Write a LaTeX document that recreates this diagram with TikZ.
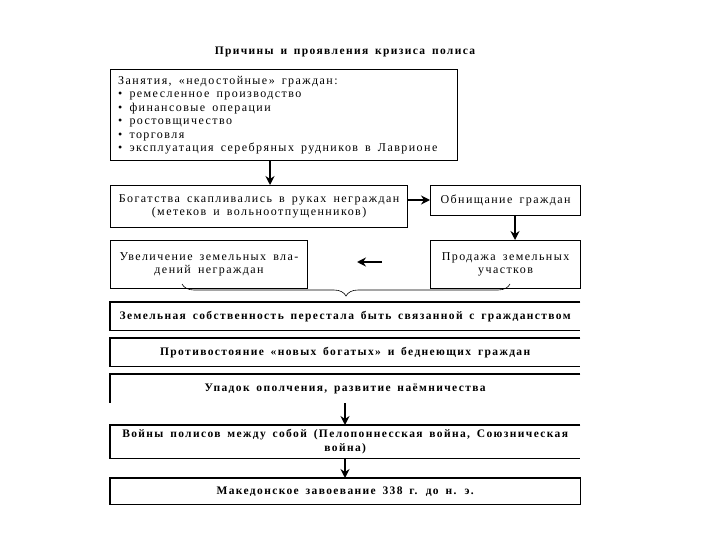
\documentclass[tikz,border=0pt]{standalone}
\usepackage{fontspec}
\setmainfont{Liberation Serif}[LetterSpace=12,WordSpace=1.6]
\usetikzlibrary{arrows.meta,decorations.pathreplacing}
\begin{document}
\begin{tikzpicture}[x=1pt,y=-1pt,
  box/.style={draw=black,line width=1.1pt,anchor=north west,inner sep=0pt,font=\fontsize{12}{13.5}\selectfont},
  txt/.style={inner sep=0pt,font=\fontsize{11.5}{13.5}\selectfont\bfseries,align=center},
  edge/.style={line width=1.1pt},
  bigarrow/.style={line width=2.6pt,-{Stealth[length=9pt,width=9pt]}},
]
\useasboundingbox[fill=white] (0,0) rectangle (720,540);
\node[txt] (title) at (345,52) {Причины и проявления кризиса полиса};
% box 1
\node[box,minimum width=347pt,minimum height=91pt] (b1) at (110,69) {};
\node[anchor=west,inner sep=0pt,align=left,font=\fontsize{12}{13.5}\selectfont] (b1t) at ([xshift=8pt]b1.west)
{Занятия, «недостойные» граждан:\\
\textbullet\ ремесленное производство\\
\textbullet\ финансовые операции\\
\textbullet\ ростовщичество\\
\textbullet\ торговля\\
\textbullet\ эксплуатация серебряных рудников в Лаврионе};
\node[box,minimum width=297pt,minimum height=42pt,align=center] (b2) at (110,185)
{Богатства скапливались в руках неграждан\\(метеков и вольноотпущенников)};
\node[box,minimum width=150pt,minimum height=30pt,align=center] (b3) at (430,185)
{Обнищание граждан};
\node[box,minimum width=197pt,minimum height=48pt,align=center] (b4) at (110,240)
{Увеличение земельных вла-\\дений неграждан};
\node[box,minimum width=150pt,minimum height=48pt,align=center] (b5) at (430,240)
{Продажа земельных\\участков};
% open-right boxes
\node[txt,minimum width=470pt,minimum height=28pt,anchor=north west] (b6) at (110,302)
{Земельная собственность перестала быть связанной с гражданством};
\node[txt,minimum width=470pt,minimum height=28pt,anchor=north west] (b7) at (110,338)
{Противостояние «новых богатых» и беднеющих граждан};
\node[txt,minimum width=470pt,minimum height=29pt,anchor=north west] (b8) at (110,374)
{Упадок ополчения, развитие наёмничества};
\node[txt,minimum width=470pt,minimum height=33pt,anchor=north west] (b9) at (110,425)
{Войны полисов между собой (Пелопоннесская война, Союзническая\\война)};
\node[txt,minimum width=470pt,minimum height=26pt,anchor=north west] (b10) at (110,478)
{Македонское завоевание 338 г. до н. э.};
\draw[edge] (b6.north east) -- (b6.north west) -- (b6.south west) -- (b6.south east);
\draw[edge] (b7.north east) -- (b7.north west) -- (b7.south west) -- (b7.south east);
\draw[edge] (b8.north east) -- (b8.north west) -- (b8.south west);
\draw[edge] (b9.north east) -- (b9.north west) -- (b9.south west) -- (b9.south east);
\draw[edge] (b10.north west) rectangle (b10.south east);
% arrows
\draw[bigarrow] (b1.south -| 270,0) -- (b2.north -| 270,0);
\draw[bigarrow] (b2.east |- 0,200) -- (b3.west |- 0,200);
\draw[bigarrow] (b3.south -| 515,0) -- (b5.north -| 515,0);
\coordinate (la1) at (382,262);
\coordinate (la2) at (357,262);
\draw[bigarrow] (la1) -- (la2);
\draw[bigarrow] (b8.south -| 345,0) -- (b9.north -| 345,0);
\draw[bigarrow] (b9.south -| 345,0) -- (b10.north -| 345,0);
% brace
\coordinate (br1) at (182,284);
\coordinate (br2) at (510,284);
\draw[line width=0.6pt,decorate,decoration={brace,mirror,amplitude=12pt}] (br1) -- (br2);
\end{tikzpicture}
\end{document}
